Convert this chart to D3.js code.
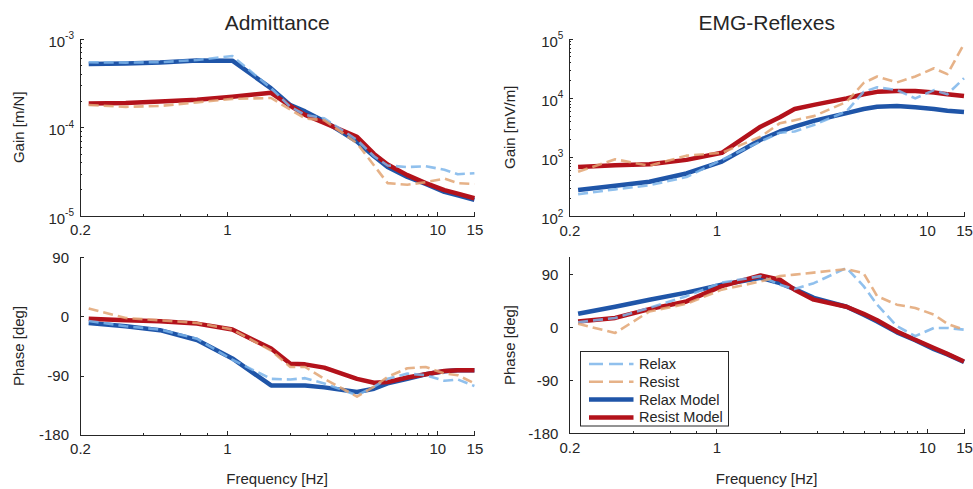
<!DOCTYPE html>
<html>
<head>
<meta charset="utf-8">
<script src="https://cdn.jsdelivr.net/npm/d3@7"></script>
<style>
  body { margin: 0; background: #fff; }
  svg text { font-family: "Liberation Sans", Arial, Helvetica, sans-serif; fill: #262626; }
  .axis path, .axis line { stroke: #262626; stroke-width: 1; shape-rendering: crispEdges; }
</style>
</head>
<body>
<script>
(function() {

    "use strict";

    // frequencies [Hz] shared by all curves
    var freqHz = [0.22, 0.33, 0.48, 0.72, 1.06, 1.62, 2.0, 2.35, 2.9, 4.15, 5.0, 5.8, 7.2, 8.8, 10.8, 12.5, 15];

    // Admittance gain [m/N]
    var admGainRelax       = [5.41e-4, 5.37e-4, 5.43e-4, 5.75e-4, 6.38e-4, 2.75e-4, 1.70e-4, 1.38e-4, 1.26e-4, 7.2e-5, 4.7e-5, 3.7e-5, 3.55e-5, 3.63e-5, 3.31e-5, 2.95e-5, 3.02e-5];
    var admGainResist      = [1.78e-4, 1.70e-4, 1.74e-4, 1.91e-4, 2.09e-4, 2.14e-4, 1.58e-4, 1.26e-4, 1.20e-4, 6.6e-5, 3.7e-5, 2.34e-5, 2.24e-5, 2.40e-5, 2.63e-5, 2.34e-5, 2.29e-5];
    var admGainRelaxModel  = [5.18e-4, 5.25e-4, 5.37e-4, 5.69e-4, 5.65e-4, 2.75e-4, 1.78e-4, 1.51e-4, 1.17e-4, 6.9e-5, 4.7e-5, 3.55e-5, 2.75e-5, 2.29e-5, 1.86e-5, 1.70e-5, 1.51e-5];
    var admGainResistModel = [1.86e-4, 1.88e-4, 1.95e-4, 2.04e-4, 2.21e-4, 2.45e-4, 1.74e-4, 1.38e-4, 1.12e-4, 7.8e-5, 5.0e-5, 3.8e-5, 2.88e-5, 2.34e-5, 1.95e-5, 1.78e-5, 1.58e-5];

    // Admittance phase [deg]
    var admPhaseRelax       = [-7, -15, -20, -34, -66, -95, -96, -94, -102, -120, -107, -95, -87, -89.5, -98, -96, -106];
    var admPhaseResist      = [12, -2.5, -6, -10, -20, -52, -77, -77, -95, -122, -107, -92, -79, -77, -87, -89.5, -102];
    var admPhaseRelaxModel  = [-10, -15, -21, -36, -64, -105, -105, -105, -108, -115, -110, -102, -95, -88, -83.5, -82, -82];
    var admPhaseResistModel = [-3.5, -6, -7.6, -11, -20, -49, -72, -73, -78, -95, -101, -100, -93, -88, -83, -82, -82];

    // EMG-reflex gain [mV/m]
    var emgGainRelax       = [234, 282, 331, 457, 891, 1820, 2570, 2690, 3470, 5890, 12600, 15100, 13500, 9770, 13500, 11500, 21400];
    var emgGainResist      = [562, 912, 708, 1050, 1175, 2190, 3720, 4170, 4900, 8510, 17800, 22900, 18200, 22900, 31600, 25100, 81300];
    var emgGainRelaxModel  = [275, 324, 380, 525, 832, 1950, 2690, 3240, 4070, 5500, 6460, 7080, 7240, 6920, 6460, 6030, 5750];
    var emgGainResistModel = [676, 724, 750, 891, 1175, 3240, 4680, 6460, 7590, 9770, 11500, 12600, 13000, 13000, 12300, 11500, 10700];

    // EMG-reflex phase [deg]
    var emgPhaseRelax       = [8.5, 16, 33, 53, 76, 87, 72.5, 65, 75, 101, 70, 38.5, 2, -15, -1, -1, -4];
    var emgPhaseResist      = [6, -9.5, 27, 40, 64, 78, 87, 89.5, 93, 99, 92, 53, 38.5, 33, 21.5, 6, -4];
    var emgPhaseRelaxModel  = [23, 35, 47, 59, 72.5, 84, 75, 65, 50, 35, 21.5, 10, -8.5, -22, -37, -46, -59];
    var emgPhaseResistModel = [10, 16, 31, 44, 70, 88, 81, 64, 47, 35, 23, 12, -7, -21, -35, -45, -58];

    // ticks
    var xTicksMajor = [0.2, 1, 10, 15];
    var xTicksMinor = [0.4, 0.6, 0.8, 2, 3, 4, 5, 6, 7, 8, 9];
    var admGainTicks = [1e-5, 1e-4, 1e-3];
    var emgGainTicks = [1e2, 1e3, 1e4, 1e5];
    var phaseTicks = [-180, -90, 0, 90];

    var seriesNames = ["Relax", "Resist", "Relax Model", "Resist Model"];

    var styles = {
        "Relax":        {color: "#7db5ea", width: 2.6, dash: "10,5", opacity: 0.85},
        "Resist":       {color: "#e2a473", width: 2.6, dash: "10,5", opacity: 0.85},
        "Relax Model":  {color: "#1f55a8", width: 4.5, dash: null, opacity: 1},
        "Resist Model": {color: "#b3121b", width: 4.5, dash: null, opacity: 1}
    };
    var drawOrder = ["Relax Model", "Resist Model", "Relax", "Resist"];

    var svg = d3.select("body").append("svg")
        .attr("width", 973)
        .attr("height", 489);

    var toPoints = function(values) {
        return values.map(function(v, i) { return {f: freqHz[i], v: v}; });
    };

    var plain = function(d) { return String(d); };

    var drawPanel = function(p) {
        var g = svg.append("g");

        var x = d3.scaleLog()
            .domain([0.2, 15])
            .range([p.left, p.right]);

        var y = (p.log ? d3.scaleLog() : d3.scaleLinear())
            .domain(p.domain)
            .range([p.bottom, p.top]);

        // x axis: major + minor ticks pointing inward
        g.append("g")
            .attr("class", "axis")
            .attr("transform", "translate(0," + p.bottom + ")")
            .call(d3.axisBottom(x).tickValues(xTicksMajor).tickFormat(plain)
                .tickSize(-4).tickSizeOuter(0).tickPadding(9))
            .call(function(a) { a.selectAll("text").attr("font-size", "15px").attr("fill", "#262626"); });

        g.append("g")
            .attr("class", "axis")
            .attr("transform", "translate(0," + p.bottom + ")")
            .call(d3.axisBottom(x).tickValues(xTicksMinor).tickFormat("").tickSize(-2).tickSizeOuter(0))
            .call(function(a) { a.select(".domain").remove(); });

        // y axis
        var yAxis = d3.axisLeft(y).tickValues(p.ticks).tickFormat(plain)
            .tickSize(-4).tickSizeOuter(0)
            .tickPadding(p.log ? 6 : 11);

        var ya = g.append("g")
            .attr("class", "axis")
            .attr("transform", "translate(" + p.left + ",0)")
            .call(yAxis);

        ya.selectAll("text").attr("font-size", "15px").attr("fill", "#262626");

        if (p.log) {
            ya.selectAll(".tick text").each(function(d) {
                var t = d3.select(this);
                var ex = Math.round(Math.log10(d));
                t.text("10").attr("dy", "0.5em");
                t.append("tspan")
                    .attr("font-size", "10px")
                    .attr("dy", "-0.75em")
                    .text(ex);
            });

            var minor = [];
            p.ticks.slice(0, -1).forEach(function(dec) {
                for (var k = 2; k <= 9; k++) { minor.push(dec * k); }
            });

            g.append("g")
                .attr("class", "axis")
                .attr("transform", "translate(" + p.left + ",0)")
                .call(d3.axisLeft(y).tickValues(minor).tickFormat("").tickSize(-2).tickSizeOuter(0))
                .call(function(a) { a.select(".domain").remove(); });
        }

        // curves
        var line = d3.line()
            .x(function(d) { return x(d.f); })
            .y(function(d) { return y(d.v); });

        drawOrder.forEach(function(name) {
            var st = styles[name];
            g.append("path")
                .datum(toPoints(p.series[name]))
                .attr("fill", "none")
                .attr("stroke", st.color)
                .attr("stroke-width", st.width)
                .attr("stroke-dasharray", st.dash)
                .attr("stroke-opacity", st.opacity)
                .attr("stroke-linejoin", "round")
                .attr("d", line);
        });

        // labels
        g.append("text")
            .attr("transform", "translate(" + p.ylabelX + "," + ((p.top + p.bottom) / 2) + ") rotate(-90)")
            .attr("text-anchor", "middle")
            .attr("font-size", "15px")
            .text(p.ylabel);

        if (p.title) {
            g.append("text")
                .attr("x", (p.left + p.right) / 2)
                .attr("y", 29.5)
                .attr("text-anchor", "middle")
                .attr("font-size", "21px")
                .text(p.title);
        }

        if (p.xlabel) {
            g.append("text")
                .attr("x", (p.left + p.right) / 2)
                .attr("y", 484)
                .attr("text-anchor", "middle")
                .attr("font-size", "15px")
                .text(p.xlabel);
        }
    };

    drawPanel({
        title: "Admittance", ylabel: "Gain [m/N]", ylabelX: 24,
        left: 80, right: 474.4, top: 38.7, bottom: 215.8,
        log: true, domain: [1e-5, 1e-3], ticks: admGainTicks,
        series: {"Relax": admGainRelax, "Resist": admGainResist,
                 "Relax Model": admGainRelaxModel, "Resist Model": admGainResistModel}
    });

    drawPanel({
        title: "EMG-Reflexes", ylabel: "Gain [mV/m]", ylabelX: 515,
        left: 569.4, right: 964, top: 38.7, bottom: 216,
        log: true, domain: [1e2, 1e5], ticks: emgGainTicks,
        series: {"Relax": emgGainRelax, "Resist": emgGainResist,
                 "Relax Model": emgGainRelaxModel, "Resist Model": emgGainResistModel}
    });

    drawPanel({
        ylabel: "Phase [deg]", ylabelX: 24, xlabel: "Frequency [Hz]",
        left: 80, right: 474.4, top: 257.2, bottom: 434.7,
        log: false, domain: [-180, 90], ticks: phaseTicks,
        series: {"Relax": admPhaseRelax, "Resist": admPhaseResist,
                 "Relax Model": admPhaseRelaxModel, "Resist Model": admPhaseResistModel}
    });

    drawPanel({
        ylabel: "Phase [deg]", ylabelX: 515, xlabel: "Frequency [Hz]",
        left: 569.4, right: 964, top: 256.7, bottom: 433.3,
        log: false, domain: [-180, 120], ticks: phaseTicks,
        series: {"Relax": emgPhaseRelax, "Resist": emgPhaseResist,
                 "Relax Model": emgPhaseRelaxModel, "Resist Model": emgPhaseResistModel}
    });

    // legend (inside the lower right panel)
    var legend = svg.append("g")
        .attr("transform", "translate(580,351)");

    legend.append("rect")
        .attr("x", 0.5).attr("y", 0.5)
        .attr("width", 148).attr("height", 74.5)
        .attr("fill", "#fff")
        .attr("stroke", "#262626")
        .attr("stroke-width", 1);

    seriesNames.forEach(function(name, i) {
        var st = styles[name];
        var ly = 13 + i * 17.8;
        legend.append("line")
            .attr("x1", 9).attr("x2", 53.5)
            .attr("y1", ly).attr("y2", ly)
            .attr("stroke", st.color)
            .attr("stroke-width", st.width)
            .attr("stroke-dasharray", st.dash ? "14,6" : null)
            .attr("stroke-opacity", st.opacity);
        legend.append("text")
            .attr("x", 59)
            .attr("y", ly)
            .attr("dy", "0.35em")
            .attr("font-size", "14.5px")
            .text(name);
    });

})();
</script>
</body>
</html>
